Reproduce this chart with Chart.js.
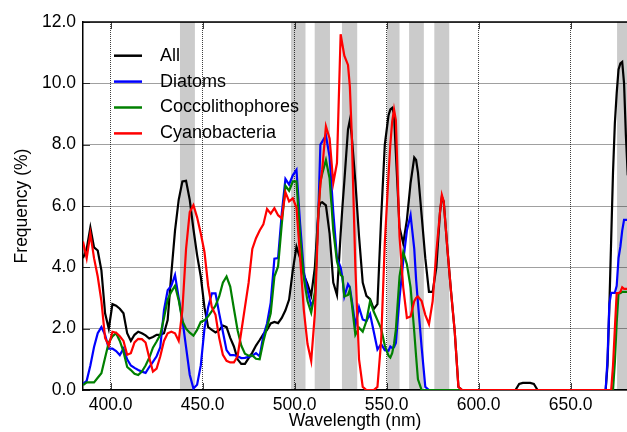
<!DOCTYPE html>
<html>
<head>
<meta charset="utf-8">
<script src="https://cdn.jsdelivr.net/npm/chart.js@4.4.1/dist/chart.umd.min.js"></script>
<style>
  body { margin: 0; background: #fff; }
  canvas { display: block; }
</style>
</head>
<body>
<canvas id="myChart" width="627" height="432"></canvas>
<script>
// wavelength grid (nm)
const wavelengths = [
    385, 387, 389, 391, 393, 395, 397, 399,
    401, 403, 405, 407, 409, 411, 413, 415, 417, 419,
    421, 423, 425, 427, 429, 431, 433, 435, 437, 439,
    441, 443, 445, 447, 449, 451, 453, 455, 457, 459,
    461, 463, 465, 467, 469, 471, 473, 475, 477, 479,
    481, 483, 485, 487, 489, 491, 493, 495, 497, 499,
    501, 503, 505, 507, 509, 511, 513, 514, 515, 517, 519,
    521, 523, 525, 526, 527, 529, 530, 531, 533, 535, 537, 539,
    541, 543, 545, 547, 549, 551, 552, 553, 554, 555, 557, 559,
    561, 563, 565, 566, 567, 569, 571, 573, 575, 577, 579,
    580, 581, 583, 585, 587, 589, 591,
    593, 595, 600, 610, 620, 622, 624, 628, 630, 632, 640, 650, 660,
    669, 670, 671, 672, 673, 674, 675, 676, 677, 678, 679, 680, 681
];

const allFreq = [
    4.3, 4.6, 5.3, 4.65, 4.55, 3.9, 2.5, 2.0,
    2.8, 2.75, 2.65, 2.5, 1.85, 1.6, 1.8, 1.9, 1.85, 1.78,
    1.68, 1.73, 1.8, 1.8, 1.85, 2.28, 3.8, 5.2, 6.2, 6.8,
    6.82, 6.2, 5.25, 4.4, 3.7, 2.7, 2.05, 1.96, 1.88, 1.95,
    2.1, 2.05, 1.7, 1.42, 1.0, 0.85, 0.85, 1.04, 1.22, 1.45,
    1.63, 1.82, 1.96, 2.17, 2.22, 2.18, 2.35, 2.6, 2.95, 3.9,
    4.67, 4.3, 3.75, 3.45, 3.08, 4.0, 5.9, 6.1, 6.12, 6.02, 5.1,
    3.5, 3.1, 5.1, 6.0, 6.8, 8.5, 8.8, 8.3, 6.8, 5.0, 3.5, 3.07,
    2.96, 2.64, 2.8, 5.6, 8.0, 8.95, 9.15, 9.2, 9.0, 7.72, 5.3, 4.78,
    5.55, 6.75, 7.58, 7.5, 7.1, 5.7, 4.3, 3.2, 3.2, 4.0, 5.8,
    6.3, 6.15, 4.6, 3.2, 1.9, 0.1, 0,
    0, 0, 0, 0, 0, 0.2, 0.23, 0.23, 0.2, 0, 0, 0, 0,
    0, 0.8, 2.7, 4.9, 7.1, 8.7, 9.68, 10.45, 10.65, 10.7, 10.0, 8.3, 7.0
];

const diatoms = [
    0.2, 0.3, 0.8, 1.4, 1.85, 2.05, 1.8, 1.35,
    1.35, 1.27, 1.14, 1.35, 1.0, 0.8, 0.72, 0.65, 0.6, 0.56,
    0.75, 0.92, 1.1, 1.4, 2.6, 3.25, 3.4, 3.75, 3.0, 2.3,
    1.4, 0.5, 0.05, 0.17, 0.8, 2.0, 2.7, 3.15, 3.15, 2.5,
    1.9, 1.3, 1.14, 1.14, 1.1, 1.04, 1.05, 1.08, 1.12, 1.2,
    1.1, 1.77, 2.17, 2.85, 4.28, 4.3, 5.75, 6.88, 6.7, 7.0,
    7.18, 5.4, 3.85, 3.25, 2.75, 3.0, 6.0, 8.0, 8.1, 8.3, 7.6,
    5.8, 4.3, 4.0, 3.65, 3.05, 3.45, 3.35, 2.95, 2.1, 2.7, 2.3, 2.25,
    2.48, 1.9, 1.32, 1.5, 1.3, 1.28, 1.42, 1.37, 1.4, 1.53, 3.0, 4.2,
    5.2, 5.7, 4.6, 3.6, 2.85, 1.4, 0.1, 0, 0, 0, 0,
    0, 0, 0, 0, 0, 0, 0,
    0, 0, 0, 0, 0, 0, 0, 0, 0, 0, 0, 0, 0,
    0, 1.0, 2.8, 3.17, 3.17, 3.17, 3.4, 4.3, 4.68, 5.2, 5.55, 5.55, 5.55
];

const coccolithophores = [
    0.16, 0.25, 0.25, 0.25, 0.4, 0.55, 1.05, 1.55,
    1.75, 1.85, 1.6, 1.25, 0.75, 0.65, 0.53, 0.49, 0.6, 0.8,
    1.05, 1.38, 1.58, 1.8, 2.35, 2.95, 3.2, 3.4, 2.93, 2.25,
    2.0, 1.87, 1.77, 1.96, 2.22, 2.27, 2.4, 2.57, 2.75, 3.05,
    3.5, 3.7, 3.37, 2.65, 1.95, 1.45, 1.18, 1.12, 1.13, 1.02,
    1.0, 1.58, 2.05, 2.5, 3.7, 4.03, 5.4, 6.66, 6.5, 6.8,
    6.8, 5.0, 3.65, 2.9, 2.52, 3.2, 5.9, 6.8, 7.05, 7.5, 6.9,
    5.2, 4.2, 3.75, 3.7, 3.05, 3.1, 3.27, 2.85, 1.8, 2.03, 1.9, 2.25,
    2.9, 2.55, 2.28, 2.0, 1.45, 1.12, 1.06, 1.2, 1.5, 1.97, 3.7, 4.5,
    4.1, 3.35, 1.9, 1.1, 0.35, 0, 0, 0, 0, 0, 0,
    0, 0, 0, 0, 0, 0, 0,
    0, 0, 0, 0, 0, 0, 0, 0, 0, 0, 0, 0, 0,
    0, 0, 0, 0, 0, 0.9, 2.2, 3.16, 3.16, 3.2, 3.2, 3.2, 3.2
];

const cyanobacteria = [
    4.84, 4.3, 5.1, 4.3, 3.7, 2.9, 1.7, 1.45,
    1.9, 1.87, 1.75, 1.6, 1.15, 1.2, 1.55, 1.67, 1.66, 1.55,
    1.05, 0.6, 0.7, 1.1, 1.6, 1.85, 1.9, 1.85, 1.6, 2.6,
    4.6, 5.8, 6.03, 5.63, 5.1, 4.5, 3.4, 2.7, 2.45, 1.7,
    1.15, 0.95, 0.9, 0.9, 1.1, 1.9, 2.7, 3.5, 4.6, 4.95,
    5.2, 5.4, 5.9, 5.75, 5.93, 5.7, 5.6, 6.45, 6.15, 6.25,
    5.95, 4.3, 2.6, 1.5, 0.95, 2.5, 5.9, 6.7, 7.2, 8.6, 8.2,
    6.75, 7.4, 11.6, 11.25, 10.9, 10.6, 9.9, 8.4, 4.0, 1.0, 0.1, 0,
    0, 0, 0.1, 1.6, 4.8, 7.0, 8.0, 8.75, 9.15, 8.8, 5.0, 3.35,
    2.35, 2.4, 2.9, 3.0, 3.05, 2.9, 2.45, 2.15, 2.9, 4.5, 5.8,
    6.36, 6.15, 4.6, 3.2, 1.9, 0.1, 0,
    0, 0, 0, 0, 0, 0, 0, 0, 0, 0, 0, 0, 0,
    0, 0, 0, 0, 0.8, 2.0, 3.16, 3.16, 3.2, 3.35, 3.3, 3.3, 3.3
];

// shaded wavelength bands [start, end]
const bands = [
    [437.7, 445.8], [498.0, 505.9], [510.9, 519.2], [525.7, 534.0],
    [550.2, 557.0], [562.2, 570.2], [575.9, 584.0], [675.2, 690.0]
];

const xTicks = [400, 450, 500, 550, 600, 650];
const yTicks = [0, 2, 4, 6, 8, 10, 12];

const seriesNames = ['All', 'Diatoms', 'Coccolithophores', 'Cyanobacteria'];
const seriesColors = ['#000000', '#0000ff', '#008000', '#ff0000'];
const seriesData = [allFreq, diatoms, coccolithophores, cyanobacteria];

const fontFamily = '"Liberation Sans", Arial, Helvetica, sans-serif';

const bandPlugin = {
    id: 'bands',
    beforeDraw(chart) {
        const { ctx, chartArea, scales } = chart;
        ctx.save();
        ctx.fillStyle = '#ffffff';
        ctx.fillRect(0, 0, chart.width, chart.height);
        ctx.beginPath();
        ctx.rect(chartArea.left, chartArea.top, chartArea.right - chartArea.left, chartArea.bottom - chartArea.top);
        ctx.clip();
        ctx.fillStyle = '#cbcbcb';
        bands.forEach(b => {
            const x1 = scales.x.getPixelForValue(b[0]);
            const x2 = scales.x.getPixelForValue(b[1]);
            ctx.fillRect(x1, chartArea.top, x2 - x1, chartArea.bottom - chartArea.top);
        });
        ctx.restore();
    },
    beforeDatasetsDraw(chart) {
        const { ctx, chartArea, scales } = chart;
        ctx.save();
        // inward tick marks
        ctx.strokeStyle = 'rgba(0,0,0,0.75)';
        ctx.lineWidth = 1;
        ctx.beginPath();
        xTicks.forEach(v => {
            const x = Math.round(scales.x.getPixelForValue(v)) + 0.5;
            ctx.moveTo(x, chartArea.bottom);
            ctx.lineTo(x, chartArea.bottom - 7);
            ctx.moveTo(x, chartArea.top);
            ctx.lineTo(x, chartArea.top + 7);
        });
        yTicks.forEach(v => {
            const y = Math.round(scales.y.getPixelForValue(v)) + 0.5;
            ctx.moveTo(chartArea.left, y);
            ctx.lineTo(chartArea.left + 7, y);
        });
        ctx.stroke();
        // top frame line
        ctx.strokeStyle = '#000';
        ctx.lineWidth = 1.5;
        ctx.beginPath();
        ctx.moveTo(chartArea.left, chartArea.top);
        ctx.lineTo(chartArea.right, chartArea.top);
        ctx.stroke();
        ctx.restore();
    },
    afterDraw(chart) {
        const { ctx, chartArea } = chart;
        ctx.save();
        ctx.font = '18px ' + fontFamily;
        ctx.textBaseline = 'middle';
        ctx.textAlign = 'left';
        seriesNames.forEach((name, i) => {
            const y = chartArea.top + 33.7 + i * 25.9;
            ctx.strokeStyle = seriesColors[i];
            ctx.lineWidth = 2.5;
            ctx.beginPath();
            ctx.moveTo(chartArea.left + 31, y);
            ctx.lineTo(chartArea.left + 59, y);
            ctx.stroke();
            ctx.fillStyle = '#000';
            ctx.fillText(name, chartArea.left + 77, y);
        });
        ctx.restore();
    }
};

const datasets = seriesData.map((vals, i) => ({
    label: seriesNames[i],
    data: wavelengths.map((w, j) => ({ x: w, y: vals[j] })),
    borderColor: seriesColors[i],
    backgroundColor: seriesColors[i],
    borderWidth: 2.2,
    pointRadius: 0,
    tension: 0,
    fill: false,
    order: 4 - i
}));

const ctx = document.getElementById('myChart').getContext('2d');
new Chart(ctx, {
    type: 'line',
    data: { datasets: datasets },
    plugins: [bandPlugin],
    options: {
        responsive: false,
        devicePixelRatio: 1,
        animation: false,
        layout: { padding: { top: 22, right: 0, left: 0, bottom: 0 } },
        plugins: {
            legend: { display: false },
            tooltip: { enabled: false }
        },
        scales: {
            x: {
                type: 'linear',
                min: 385,
                max: 680.6,
                afterBuildTicks: s => { s.ticks = xTicks.map(v => ({ value: v })); },
                afterFit: s => { s.height = 42; },
                ticks: {
                    callback: v => v.toFixed(1),
                    color: '#000',
                    font: { family: fontFamily, size: 17.5 },
                    padding: 5,
                    maxRotation: 0,
                    autoSkip: false
                },
                grid: { color: 'rgba(0,0,0,0.75)', lineWidth: 1, drawTicks: false },
                border: { color: '#000', width: 1.5, dash: [1, 1] },
                title: {
                    display: true,
                    text: 'Wavelength (nm)',
                    color: '#000',
                    font: { family: fontFamily, size: 17.5 },
                    padding: { top: 0, bottom: 0 }
                }
            },
            y: {
                min: 0,
                max: 12,
                afterBuildTicks: s => { s.ticks = yTicks.map(v => ({ value: v })); },
                afterFit: s => { s.width = 83; },
                ticks: {
                    callback: v => v.toFixed(1),
                    color: '#000',
                    font: { family: fontFamily, size: 17.5 },
                    padding: 7
                },
                grid: { color: 'rgba(0,0,0,0.75)', lineWidth: 1, drawTicks: false },
                border: { color: '#000', width: 1.5, dash: [1, 1] },
                title: {
                    display: true,
                    text: 'Frequency (%)',
                    color: '#000',
                    font: { family: fontFamily, size: 17.5 },
                    padding: { top: 12, bottom: 0 }
                }
            }
        }
    }
});
</script>
</body>
</html>
